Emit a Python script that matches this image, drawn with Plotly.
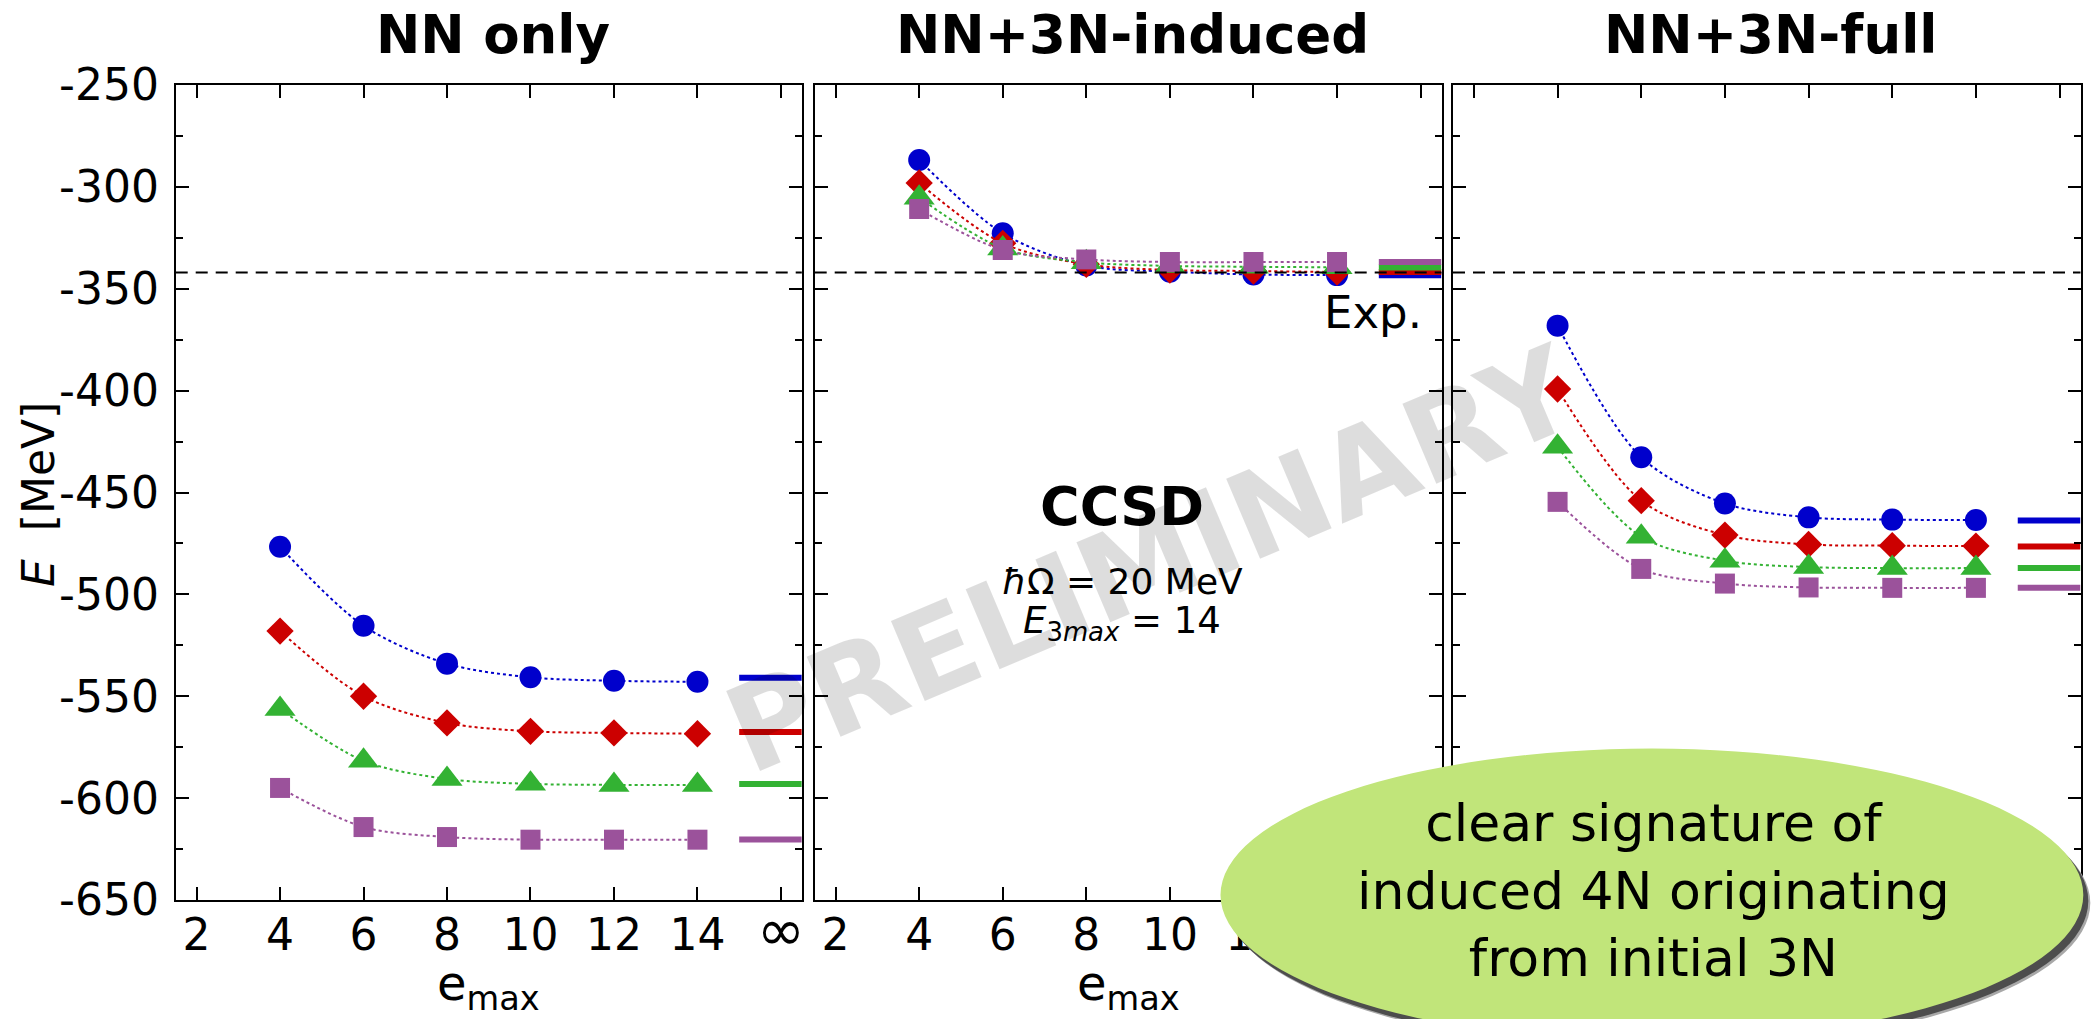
import plotly.graph_objects as go

# ---------------- data ----------------
emax = [4, 6, 8, 10, 12, 14]
xtick_vals = [2, 4, 6, 8, 10, 12, 14, 16]
xtick_text = ["2", "4", "6", "8", "10", "12", "14", "<span style='font-size:58px'>\u221e</span>"]
ytick_vals = [-650, -600, -550, -500, -450, -400, -350, -300, -250]
ytick_text = ["-650", "-600", "-550", "-500", "-450", "-400", "-350", "-300", "-250"]
yminor_vals = [-625, -575, -525, -475, -425, -375, -325, -275]
exp_energy = -342.05

panel_titles = ["NN only", "NN+3N-induced", "NN+3N-full"]

# NN only
nn_blue = [-476.6, -515.4, -534.0, -540.7, -542.4, -542.9]
nn_red = [-518.0, -550.0, -563.1, -567.2, -568.0, -568.4]
nn_green = [-556.2, -581.7, -590.6, -593.0, -593.5, -593.5]
nn_purple = [-595.0, -614.2, -619.1, -620.4, -620.4, -620.4]
nn_inf = [-540.9, -567.5, -593.1, -620.3]

# NN+3N-induced
ind_blue = [-286.8, -322.8, -338.6, -341.6, -343.0, -343.3]
ind_red = [-298.1, -327.7, -338.0, -340.8, -341.3, -341.8]
ind_green = [-305.3, -330.2, -337.0, -338.8, -339.2, -339.5]
ind_purple = [-310.9, -331.0, -335.6, -336.9, -336.9, -336.9]
ind_inf = [-343.4, -341.8, -339.6, -336.9]

# NN+3N-full
full_blue = [-368.1, -432.7, -455.4, -462.2, -463.3, -463.5]
full_red = [-399.2, -454.0, -470.9, -475.5, -476.1, -476.3]
full_green = [-427.6, -471.7, -483.5, -486.6, -487.1, -487.1]
full_purple = [-454.6, -487.5, -494.7, -496.6, -496.8, -496.8]
full_inf = [-463.7, -476.5, -487.1, -496.8]

inf_bar_x = [15, 16.5]

# ---------------- style ----------------
W, H = 2093, 1019
FONT = "DejaVu Sans"
colors = ["#0000cc", "#cc0000", "#33b233", "#9b529b"]
symbols = ["circle", "diamond", "triangle-up", "square"]
sizes = [22, 21, 27, 20]


def px(x):
    return x / W


def py(y):
    return 1 - y / H


panels_px = [(175.7, 801.8), (814.7, 1441.5), (1453.0, 2080.5)]
top_px, bot_px = 85, 900

panel_series = [
    [nn_blue, nn_red, nn_green, nn_purple],
    [ind_blue, ind_red, ind_green, ind_purple],
    [full_blue, full_red, full_green, full_purple],
]
panel_inf = [nn_inf, ind_inf, full_inf]

fig = go.Figure()

for p in range(3):
    xa = "x" if p == 0 else f"x{p+1}"
    ya = "y" if p == 0 else f"y{p+1}"
    for s in range(4):
        fig.add_trace(go.Scatter(
            x=emax, y=panel_series[p][s], xaxis=xa, yaxis=ya,
            mode="lines+markers",
            line=dict(color=colors[s], width=2, dash="dot", shape="spline", smoothing=0.9),
            marker=dict(symbol=symbols[s], size=sizes[s], color=colors[s], line=dict(width=0)),
            showlegend=False, hoverinfo="skip",
        ))
    for s in range(4):
        fig.add_trace(go.Scatter(
            x=inf_bar_x, y=[panel_inf[p][s]] * 2, xaxis=xa, yaxis=ya,
            mode="lines", line=dict(color=colors[s], width=6),
            showlegend=False, hoverinfo="skip", cliponaxis=True,
        ))

axis_common = dict(
    showgrid=False, zeroline=False, showline=True, linecolor="black", linewidth=2,
    mirror="ticks", ticks="inside", tickcolor="black", tickwidth=2, ticklen=13,
    tickfont=dict(family=FONT, size=44, color="black"), automargin=False,
)

layout = dict(
    width=W, height=H, margin=dict(l=0, r=0, t=0, b=0, autoexpand=False),
    paper_bgcolor="white", plot_bgcolor="white", showlegend=False,
)

for p in range(3):
    xk = "xaxis" if p == 0 else f"xaxis{p+1}"
    yk = "yaxis" if p == 0 else f"yaxis{p+1}"
    xanchor_name = "y" if p == 0 else f"y{p+1}"
    yanchor_name = "x" if p == 0 else f"x{p+1}"
    x0, x1 = panels_px[p]
    layout[xk] = dict(
        axis_common, domain=[px(x0), px(x1)], anchor=xanchor_name,
        range=[1.5, 16.5], tickmode="array", tickvals=xtick_vals, ticktext=xtick_text,
        ticklabelstandoff=-5, showticklabels=(p < 2),
    )
    layout[yk] = dict(
        axis_common, domain=[py(bot_px), py(top_px)], anchor=yanchor_name,
        range=[-650, -250], tickmode="array", tickvals=ytick_vals, ticktext=ytick_text,
        showticklabels=(p == 0), ticklabelstandoff=6,
        minor=dict(tickmode="array", tickvals=yminor_vals, ticks="inside", ticklen=7,
                   tickwidth=2, tickcolor="black"),
    )

fig.update_layout(**layout)

shapes = []
# experimental line
for p in range(3):
    xr = "x domain" if p == 0 else f"x{p+1} domain"
    yr = "y" if p == 0 else f"y{p+1}"
    shapes.append(dict(type="line", xref=xr, yref=yr, x0=0, x1=1, y0=exp_energy, y1=exp_energy,
                       line=dict(color="black", width=2, dash="12px,8px"), layer="above"))

# callout ellipse with shadow
ecx, ecy, erx, ery = 1651.9, 895.0, 431.4, 146.4
shapes.append(dict(type="circle", xref="paper", yref="paper",
                   x0=px(ecx - erx + 7), x1=px(ecx + erx + 7), y0=py(ecy + ery + 8), y1=py(ecy - ery + 8),
                   fillcolor="#a8a8a8", line=dict(width=0), layer="above"))
shapes.append(dict(type="circle", xref="paper", yref="paper",
                   x0=px(ecx - erx + 5), x1=px(ecx + erx + 5), y0=py(ecy + ery + 6), y1=py(ecy - ery + 6),
                   fillcolor="#4d4d4d", line=dict(width=0), layer="above"))
shapes.append(dict(type="circle", xref="paper", yref="paper",
                   x0=px(ecx - erx), x1=px(ecx + erx), y0=py(ecy + ery), y1=py(ecy - ery),
                   fillcolor="#c1e57a", line=dict(width=0), layer="above"))
fig.update_layout(shapes=shapes)

ann = []
# watermark first (drawn beneath the other annotations)
ann.append(dict(text="<b>PRELIMINARY</b>", xref="paper", yref="paper", x=px(1152), y=py(560),
                showarrow=False, textangle=-23, font=dict(family=FONT, size=119, color="rgba(0,0,0,0.135)"),
                xanchor="center", yanchor="middle"))

# panel titles
for p in range(3):
    x0, x1 = panels_px[p]
    ann.append(dict(text=f"<b>{panel_titles[p]}</b>", xref="paper", yref="paper",
                    x=px((x0 + x1) / 2 + 4), y=py(53 - 0.346 * 53), showarrow=False,
                    font=dict(family=FONT, size=53, color="black"), xanchor="center", yanchor="middle"))

# axis labels
ann.append(dict(text="<i>E</i>  [MeV]", xref="paper", yref="paper", x=px(39), y=py(495),
                showarrow=False, textangle=-90, font=dict(family=FONT, size=44, color="black"),
                xanchor="center", yanchor="middle"))
for p in range(2):
    x0, x1 = panels_px[p]
    ann.append(dict(text="e<sub>max</sub>", xref="paper", yref="paper", x=px((x0 + x1) / 2), y=py(986),
                    showarrow=False, font=dict(family=FONT, size=48, color="black"),
                    xanchor="center", yanchor="middle"))

# Exp. label
ann.append(dict(text="Exp.", xref="paper", yref="paper", x=px(1424), y=py(328.3 - 0.346 * 45),
                showarrow=False, font=dict(family=FONT, size=45, color="black"),
                xanchor="right", yanchor="middle"))

# CCSD block
ann.append(dict(text="<b>CCSD</b>", xref="paper", yref="paper", x=px(1122), y=py(525.5 - 0.346 * 54),
                showarrow=False, font=dict(family=FONT, size=54, color="black"),
                xanchor="center", yanchor="middle"))
ann.append(dict(text="<i>\u0127</i>\u03a9 = 20 MeV", xref="paper", yref="paper", x=px(1122), y=py(593.5 - 0.346 * 36),
                showarrow=False, font=dict(family=FONT, size=36, color="black"),
                xanchor="center", yanchor="middle"))
ann.append(dict(text="<i>E</i><sub>3<i>max</i></sub> = 14", xref="paper", yref="paper", x=px(1122), y=py(623),
                showarrow=False, font=dict(family=FONT, size=37, color="black"),
                xanchor="center", yanchor="middle"))

# callout text
ann.append(dict(text="clear signature of<br>induced 4N originating<br>from initial 3N",
                xref="paper", yref="paper", x=px(1653), y=py(890), showarrow=False,
                font=dict(family=FONT, size=52, color="black"), xanchor="center", yanchor="middle"))

fig.update_layout(annotations=ann)

fig.write_html("out.html")
